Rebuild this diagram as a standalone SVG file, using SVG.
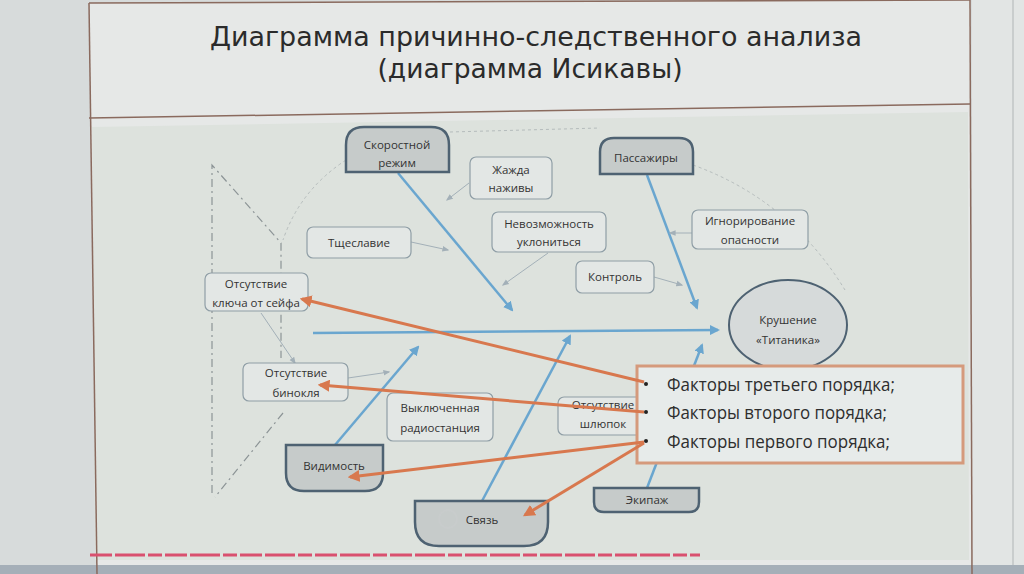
<svg xmlns="http://www.w3.org/2000/svg" width="1024" height="574" viewBox="0 0 1024 574">
<style>
.t{font-family:"Open Sans","Noto Sans","Liberation Sans",sans-serif;font-size:11.5px;fill:#333;text-anchor:middle}
.title{font-family:"DejaVu Sans Condensed","Open Sans","Liberation Sans",sans-serif;font-size:26px;fill:#2b2b2b;text-anchor:middle}
.f{font-family:"Open Sans","Noto Sans","Liberation Sans",sans-serif;font-size:18px;fill:#2e2e2e}
.box{fill:#e3e7e5;stroke:#8f9ea6;stroke-width:1.2}
.main{fill:#c6cbca;stroke:#4e6272;stroke-width:2.5}
.bone{stroke:#6aa6cf;stroke-width:2.5;fill:none}
.sub{stroke:#a3b0b8;stroke-width:1;fill:none}
.or{stroke:#d8784e;stroke-width:3;fill:none}
.dash{stroke:#8c9496;stroke-width:1.2;fill:none;stroke-dasharray:8 4 2 4}
</style>
<defs>
<marker id="ab" viewBox="0 0 10 10" refX="8" refY="5" markerWidth="4" markerHeight="4" orient="auto"><path d="M0,0 L10,5 L0,10 z" fill="#6aa6cf"/></marker>
<marker id="ag" viewBox="0 0 10 10" refX="8" refY="5" markerWidth="7" markerHeight="7" orient="auto"><path d="M0,1 L10,5 L0,9 z" fill="#a3b0b8"/></marker>
<marker id="ao" viewBox="0 0 10 10" refX="8" refY="5" markerWidth="4" markerHeight="4" orient="auto"><path d="M0,0 L10,5 L0,10 z" fill="#d8784e"/></marker>
</defs>
<!-- background -->
<rect x="0" y="0" width="1024" height="574" fill="#d7dbdb"/>
<rect x="972" y="0" width="52" height="574" fill="#e2e5e4"/>
<line x1="1013" y1="0" x2="1013" y2="574" stroke="#c9cdcd" stroke-width="2"/>
<polygon points="89,3 970,0 972,574 97,574" fill="#e6e8e7"/>
<polygon points="92,127 968,112 969,560 95,560" fill="#dde2dd"/>
<rect x="0" y="565" width="1024" height="9" fill="#a5afb8"/>
<!-- slide frame -->
<g id="frame" stroke="#8a6a5e" stroke-width="1.5" fill="none">
<line x1="89" y1="3" x2="970" y2="0"/>
<line x1="89" y1="3" x2="97" y2="574"/>
<line x1="970" y1="0" x2="972" y2="574"/>
<line x1="89" y1="118" x2="970" y2="104"/>
</g>
<line x1="90" y1="555" x2="700" y2="555" stroke="#d9506f" stroke-width="3" stroke-dasharray="22 3 30 3 14 3"/>
<!-- title -->
<g id="title">
<text class="title" x="536" y="46" textLength="652" lengthAdjust="spacingAndGlyphs">Диаграмма причинно-следственного анализа</text>
<text class="title" x="530" y="78" textLength="305" lengthAdjust="spacingAndGlyphs">(диаграмма Исикавы)</text>
</g>
<!-- decorative dashed lines -->
<g id="decor">
<polyline class="dash" points="212,493 212,165 281,243 281,358"/>
<line class="dash" x1="283" y1="413" x2="215" y2="497"/>
<path d="M346,160 Q300,190 283,240" stroke="#b5bcbc" stroke-width="1" fill="none" stroke-dasharray="3 3"/>
<path d="M693,165 Q790,200 845,290" stroke="#b5bcbc" stroke-width="1" fill="none" stroke-dasharray="3 3"/>
<path d="M450,132 L600,128" stroke="#b5bcbc" stroke-width="1" fill="none" stroke-dasharray="3 3"/>
</g>
<!-- connectors -->
<g id="connectors">
<line class="bone" x1="313" y1="333" x2="718" y2="330" marker-end="url(#ab)"/>
<line class="bone" x1="398" y1="173" x2="512" y2="310" marker-end="url(#ab)"/>
<line class="bone" x1="647" y1="175" x2="697" y2="308" marker-end="url(#ab)"/>
<line class="bone" x1="335" y1="445" x2="418" y2="347" marker-end="url(#ab)"/>
<line class="bone" x1="482" y1="501" x2="570" y2="336" marker-end="url(#ab)"/>
<line class="bone" x1="647" y1="488" x2="702" y2="345" marker-end="url(#ab)"/>
<line class="sub" x1="469" y1="183" x2="447" y2="200" marker-end="url(#ag)"/>
<line class="sub" x1="411" y1="242" x2="448" y2="250" marker-end="url(#ag)"/>
<line class="sub" x1="548" y1="253" x2="503" y2="285" marker-end="url(#ag)"/>
<line class="sub" x1="692" y1="233" x2="670" y2="233" marker-end="url(#ag)"/>
<line class="sub" x1="654" y1="277" x2="682" y2="285" marker-end="url(#ag)"/>
<line class="sub" x1="261" y1="313" x2="295" y2="363" marker-end="url(#ag)"/>
<line class="sub" x1="348" y1="378" x2="389" y2="372" marker-end="url(#ag)"/>
</g>
<!-- nodes -->
<g id="n-speed"><path class="main" d="M346,172 V145 Q346,127 364,127 H431 Q449,127 449,145 V172 Z"/><text class="t" x="397" y="149">Скоростной</text><text class="t" x="397" y="167">режим</text></g>
<g id="n-greed"><rect class="box" x="470" y="157" width="82" height="42" rx="6"/><text class="t" x="511" y="174">Жажда</text><text class="t" x="511" y="192">наживы</text></g>
<g id="n-vanity"><rect class="box" x="307" y="227" width="104" height="31" rx="6"/><text class="t" x="359" y="247">Тщеславие</text></g>
<g id="n-evade"><rect class="box" x="492" y="212" width="114" height="40" rx="6"/><text class="t" x="549" y="228">Невозможность</text><text class="t" x="549" y="246">уклониться</text></g>
<g id="n-pass"><path class="main" d="M600,174 V152 Q600,138 614,138 H679 Q693,138 693,152 V174 Z"/><text class="t" x="646" y="162">Пассажиры</text></g>
<g id="n-ignore"><rect class="box" x="692" y="210" width="116" height="39" rx="6"/><text class="t" x="750" y="225">Игнорирование</text><text class="t" x="750" y="244">опасности</text></g>
<g id="n-control"><rect class="box" x="576" y="261" width="78" height="32" rx="6"/><text class="t" x="615" y="281">Контроль</text></g>
<g id="n-wreck"><ellipse cx="788" cy="325" rx="59" ry="45" fill="#d6dada" stroke="#4e6272" stroke-width="2"/><text class="t" x="788" y="324">Крушение</text><text class="t" x="788" y="344">«Титаника»</text></g>
<g id="n-key"><rect class="box" x="205" y="273" width="103" height="38" rx="6"/><text class="t" x="256" y="288">Отсутствие</text><text class="t" x="256" y="307">ключа от сейфа</text></g>
<g id="n-binoc"><rect class="box" x="243" y="363" width="105" height="38" rx="6"/><text class="t" x="296" y="377">Отсутствие</text><text class="t" x="296" y="397">бинокля</text></g>
<g id="n-radio"><rect class="box" x="387" y="393" width="106" height="48" rx="6"/><text class="t" x="440" y="412">Выключенная</text><text class="t" x="440" y="432">радиостанция</text></g>
<g id="n-boats"><rect class="box" x="558" y="397" width="84" height="38" rx="6"/><text class="t" x="603" y="409">Отсутствие</text><text class="t" x="603" y="428">шлюпок</text></g>
<g id="n-vis"><path class="main" d="M286,445 H383 V473 Q383,491 365,491 H304 Q286,491 286,473 Z" stroke-width="2"/><text class="t" x="334" y="470">Видимость</text></g>
<g id="n-comm"><path class="main" d="M415,501 H548 V522 Q548,546 524,546 H439 Q415,546 415,522 Z" fill="#d8dcdb" stroke-width="2"/><circle cx="448" cy="519" r="9" fill="none" stroke="#c8cccc" stroke-width="2"/><text class="t" x="482" y="524">Связь</text></g>
<g id="n-crew"><path class="main" d="M594,488 H699 V502 Q699,512 689,512 H604 Q594,512 594,502 Z" fill="#d8dcdb" stroke-width="2"/><text class="t" x="647" y="504">Экипаж</text></g>
<!-- factors box -->
<g id="n-factors">
<rect x="637" y="366" width="326" height="97" fill="#e7ebea" stroke="#d59a7c" stroke-width="3"/>
<circle cx="646" cy="384" r="2" fill="#222"/><circle cx="646" cy="412" r="2" fill="#222"/><circle cx="646" cy="441" r="2" fill="#222"/>
<text class="f" x="667" y="391" textLength="228" lengthAdjust="spacingAndGlyphs">Факторы третьего порядка;</text>
<text class="f" x="667" y="419" textLength="220" lengthAdjust="spacingAndGlyphs">Факторы второго порядка;</text>
<text class="f" x="667" y="448" textLength="223" lengthAdjust="spacingAndGlyphs">Факторы первого порядка;</text>
</g>
<g id="orange-connectors">
<line class="or" x1="644" y1="382" x2="302" y2="299" marker-end="url(#ao)"/>
<line class="or" x1="644" y1="412" x2="320" y2="385" marker-end="url(#ao)"/>
<line class="or" x1="644" y1="442" x2="350" y2="477" marker-end="url(#ao)"/>
<line class="or" x1="644" y1="443" x2="525" y2="515" marker-end="url(#ao)"/>
</g>
</svg>
